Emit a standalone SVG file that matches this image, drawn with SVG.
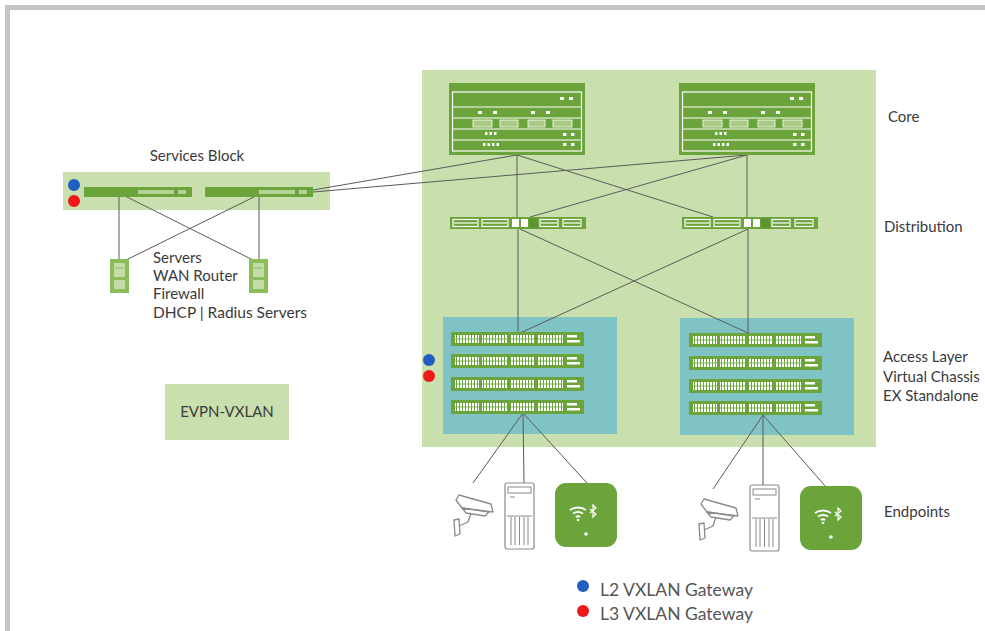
<svg xmlns="http://www.w3.org/2000/svg" xmlns:xlink="http://www.w3.org/1999/xlink" width="985" height="631" viewBox="0 0 985 631">
  <style>
    .lbl { font-family: Lato, "Open Sans", "Liberation Sans", sans-serif; font-size: 15px; fill: #3a3a3a; }
    .leg { font-family: Lato, "Open Sans", "Liberation Sans", sans-serif; font-size: 16.5px; fill: #555; }
    .zone { fill: #cadfae; }
    .teal { fill: #80c3c5; }
    .dev { fill: #6aa43a; }
    .wline { stroke: #ffffff; stroke-width: 1.2; fill: none; }
    .wdot { fill: #ffffff; }
    .link { stroke: #5a5a5a; stroke-width: 1; fill: none; }
    .outline { stroke: #8a8a8a; stroke-width: 1.2; fill: #ffffff; }
    .blue { fill: #1f5fc4; }
    .red { fill: #f01818; }
  </style>
  <defs>
    <pattern id="ports" width="3" height="12" patternUnits="userSpaceOnUse">
      <rect x="0" y="0" width="2" height="12" fill="#ffffff"/>
    </pattern>
    <!-- chassis core switch -->
    <g id="coreSw">
      <rect class="dev" x="0" y="0" width="136" height="72"/>
      <rect class="wline" x="3.5" y="9" width="129" height="59"/>
      <line class="wline" x1="3.5" y1="24" x2="132.5" y2="24"/>
      <line class="wline" x1="3.5" y1="35" x2="132.5" y2="35"/>
      <line class="wline" x1="3.5" y1="46" x2="132.5" y2="46"/>
      <line class="wline" x1="3.5" y1="57" x2="132.5" y2="57"/>
      <rect class="wdot" x="111" y="14" width="4" height="3"/>
      <rect class="wdot" x="120" y="14" width="4" height="3"/>
      <rect class="wdot" x="29" y="28" width="4" height="3"/>
      <rect class="wdot" x="44" y="28" width="4" height="3"/>
      <rect class="wdot" x="82" y="28" width="4" height="3"/>
      <rect class="wdot" x="97" y="28" width="4" height="3"/>
      <rect x="24" y="37" width="19" height="7" fill="#a9cb86" stroke="#fff" stroke-width="0.8"/>
      <rect x="51" y="37" width="18" height="7" fill="#a9cb86" stroke="#fff" stroke-width="0.8"/>
      <rect x="79" y="37" width="17" height="7" fill="#a9cb86" stroke="#fff" stroke-width="0.8"/>
      <rect x="104" y="37" width="19" height="7" fill="#a9cb86" stroke="#fff" stroke-width="0.8"/>
      <rect class="wdot" x="36" y="49" width="2.5" height="3"/>
      <rect class="wdot" x="40.5" y="49" width="2.5" height="3"/>
      <rect class="wdot" x="45" y="49" width="2.5" height="3"/>
      <rect class="wdot" x="114" y="50" width="3.5" height="3"/>
      <rect class="wdot" x="122" y="50" width="3.5" height="3"/>
      <rect class="wdot" x="34" y="60" width="2.5" height="3"/>
      <rect class="wdot" x="38.5" y="60" width="2.5" height="3"/>
      <rect class="wdot" x="43" y="60" width="2.5" height="3"/>
      <rect class="wdot" x="47.5" y="60" width="2.5" height="3"/>
      <rect class="wdot" x="114" y="60" width="3.5" height="3"/>
      <rect class="wdot" x="122" y="60" width="3.5" height="3"/>
    </g>
    <!-- distribution switch -->
    <g id="distSw">
      <rect class="dev" x="0" y="0" width="136" height="12"/>
      <rect class="wline" x="3" y="2.5" width="25" height="7" stroke-width="0.9"/>
      <line class="wline" x1="4" y1="6" x2="27" y2="6" stroke-width="0.9"/>
      <rect class="wline" x="32" y="2.5" width="26" height="7" stroke-width="0.9"/>
      <line class="wline" x1="33" y1="6" x2="57" y2="6" stroke-width="0.9"/>
      <rect class="wdot" x="62" y="2" width="7" height="8"/>
      <rect class="wdot" x="71" y="2" width="7" height="8"/>
      <rect x="79" y="1" width="9" height="10" fill="#5d9530"/>
      <rect class="wline" x="90" y="2.5" width="18" height="7" stroke-width="0.9"/>
      <line class="wline" x1="91" y1="6" x2="107" y2="6" stroke-width="0.9"/>
      <rect class="wline" x="113" y="2.5" width="18" height="7" stroke-width="0.9"/>
      <line class="wline" x1="114" y1="6" x2="130" y2="6" stroke-width="0.9"/>
    </g>
    <!-- access switch -->
    <g id="accSw">
      <rect class="dev" x="0" y="0" width="133" height="14"/>
      <rect x="4" y="3" width="24" height="8" fill="url(#ports)"/>
      <rect x="31" y="3" width="25" height="8" fill="url(#ports)"/>
      <rect x="59" y="3" width="25" height="8" fill="url(#ports)"/>
      <rect x="87" y="3" width="25" height="8" fill="url(#ports)"/>
      <line x1="4" y1="7" x2="112" y2="7" stroke="#6aa43a" stroke-width="0.8"/>
      <rect class="wdot" x="116" y="3" width="10" height="2.5"/>
      <rect class="wdot" x="116" y="8" width="13" height="2.5"/>
    </g>
    <!-- services block switch -->
    <g id="svcSw">
      <rect class="dev" x="0" y="0" width="108" height="10"/>
      <rect x="54" y="3" width="36" height="4" fill="#b7d39a"/>
      <rect x="94" y="3" width="8" height="4" fill="#b7d39a"/>
    </g>
    <!-- service appliance -->
    <g id="svcDev">
      <rect x="0" y="0" width="19" height="34" fill="#8bbd5b"/>
      <rect x="4" y="4" width="11" height="14" fill="#c4dca7"/>
      <rect x="4" y="21" width="11" height="9" fill="#c4dca7"/>
      <line x1="5" y1="9" x2="14" y2="9" stroke="#8bbd5b" stroke-width="1"/>
    </g>
    <!-- security camera outline -->
    <g id="camera" fill="#fff" stroke="#8a8a8a" stroke-width="1.3" stroke-linejoin="round">
      <path d="M5,0 L37,9 L39,17 L8,13 L2,5 Z"/>
      <path d="M8,13 L35,17 L31,21 L12,18 Z"/>
      <path d="M17,18 L14,27 L5,31"/>
      <path d="M0,25 L5,24 L6,39 L1,41 Z"/>
    </g>
    <!-- tower server outline -->
    <g id="server">
      <rect class="outline" x="0" y="0" width="29" height="66" rx="2"/>
      <rect x="3" y="4" width="23" height="6" fill="none" stroke="#8a8a8a" stroke-width="1"/>
      <line x1="5" y1="14" x2="10" y2="14" stroke="#8a8a8a" stroke-width="1"/>
      <line x1="2" y1="33" x2="27" y2="33" stroke="#8a8a8a" stroke-width="1"/>
      <line x1="6" y1="34" x2="6" y2="62" stroke="#8a8a8a" stroke-width="1"/>
      <line x1="10" y1="34" x2="10" y2="62" stroke="#8a8a8a" stroke-width="1"/>
      <line x1="14.5" y1="34" x2="14.5" y2="62" stroke="#8a8a8a" stroke-width="1"/>
      <line x1="19" y1="34" x2="19" y2="62" stroke="#8a8a8a" stroke-width="1"/>
      <line x1="23" y1="34" x2="23" y2="62" stroke="#8a8a8a" stroke-width="1"/>
    </g>
    <!-- wireless access point -->
    <g id="ap">
      <rect class="dev" x="0" y="0" width="62" height="64" rx="11"/>
      <path d="M15,27 A14,14 0 0 1 31,27" stroke="#fff" stroke-width="1.8" fill="none"/>
      <path d="M18,30.5 A9,9 0 0 1 28,30.5" stroke="#fff" stroke-width="1.8" fill="none"/>
      <path d="M20.8,34 A4,4 0 0 1 25.2,34" stroke="#fff" stroke-width="1.8" fill="none"/>
      <circle cx="23" cy="37" r="1.3" fill="#fff"/>
      <path d="M35,26 L41,31 L38,34 L38,22 L41,25 L35,30" stroke="#fff" stroke-width="1.2" fill="none"/>
      <circle cx="31" cy="51" r="1.8" fill="#fff"/>
    </g>
  </defs>

  <!-- page frame -->
  <rect x="0" y="0" width="985" height="631" fill="#ffffff"/>
  <rect x="7.5" y="7.5" width="990" height="640" fill="none" stroke="#c4c4c4" stroke-width="5"/>

  <!-- zones -->
  <g id="fabric-zone">
    <rect class="zone" x="422" y="70" width="454" height="377"/>
    <rect class="teal" x="443" y="317" width="174" height="117"/>
    <rect class="teal" x="680" y="318" width="174" height="117"/>
  </g>
  <g id="services-zone">
    <rect class="zone" x="63" y="172" width="267" height="38"/>
  </g>

  <!-- connectors -->
  <g id="connectors">
    <!-- services switches to appliances -->
    <line class="link" x1="119" y1="197" x2="119" y2="259"/>
    <line class="link" x1="123" y1="195" x2="257" y2="262"/>
    <line class="link" x1="258" y1="195" x2="122" y2="262"/>
    <line class="link" x1="259" y1="197" x2="259" y2="259"/>
    <!-- services block uplinks to core -->
    <line class="link" x1="313" y1="190" x2="517" y2="155"/>
    <line class="link" x1="313" y1="192" x2="747" y2="155"/>
    <!-- core to distribution -->
    <line class="link" x1="517" y1="155" x2="517" y2="217"/>
    <line class="link" x1="517" y1="155" x2="713" y2="217"/>
    <line class="link" x1="747" y1="155" x2="747" y2="217"/>
    <line class="link" x1="747" y1="155" x2="530" y2="217"/>
    <!-- distribution to access -->
    <line class="link" x1="518" y1="229" x2="518" y2="333"/>
    <line class="link" x1="520" y1="229" x2="748" y2="333"/>
    <line class="link" x1="748" y1="229" x2="748" y2="333"/>
    <line class="link" x1="748" y1="229" x2="520" y2="333"/>
    <!-- access to endpoints -->
    <line class="link" x1="523" y1="413" x2="473" y2="483"/>
    <line class="link" x1="523" y1="413" x2="524" y2="483"/>
    <line class="link" x1="523" y1="413" x2="587" y2="483"/>
    <line class="link" x1="763" y1="415" x2="713" y2="489"/>
    <line class="link" x1="763" y1="415" x2="763" y2="485"/>
    <line class="link" x1="763" y1="415" x2="826" y2="487"/>
  </g>

  <!-- core -->
  <g id="core-1"><use xlink:href="#coreSw" x="449" y="83"/></g>
  <g id="core-2"><use xlink:href="#coreSw" x="679" y="83"/></g>

  <!-- distribution -->
  <g id="dist-1"><use xlink:href="#distSw" x="450" y="217"/></g>
  <g id="dist-2"><use xlink:href="#distSw" x="682" y="217"/></g>

  <!-- access layer stacks -->
  <g id="access-1">
    <use xlink:href="#accSw" x="451" y="332"/>
    <use xlink:href="#accSw" x="451" y="354"/>
    <use xlink:href="#accSw" x="451" y="377"/>
    <use xlink:href="#accSw" x="451" y="400"/>
  </g>
  <g id="access-2">
    <use xlink:href="#accSw" x="689" y="333"/>
    <use xlink:href="#accSw" x="689" y="356"/>
    <use xlink:href="#accSw" x="689" y="379"/>
    <use xlink:href="#accSw" x="689" y="401"/>
  </g>
  <g id="access-gateway-marks">
    <circle class="blue" cx="429" cy="360" r="6"/>
    <circle class="red" cx="429" cy="376" r="6"/>
  </g>

  <!-- services block -->
  <g id="services-block">
    <text class="lbl" x="197" y="161" text-anchor="middle">Services Block</text>
    <circle class="blue" cx="74" cy="185" r="6"/>
    <circle class="red" cx="74" cy="201" r="6"/>
    <use xlink:href="#svcSw" x="84" y="187"/>
    <use xlink:href="#svcSw" x="205" y="187"/>
  </g>
  <g id="service-1"><use xlink:href="#svcDev" x="110" y="259"/></g>
  <g id="service-2"><use xlink:href="#svcDev" x="249" y="259"/></g>
  <g id="services-list">
    <text class="lbl" x="153" y="263">Servers</text>
    <text class="lbl" x="153" y="281">WAN Router</text>
    <text class="lbl" x="153" y="299">Firewall</text>
    <text class="lbl" x="153" y="318" textLength="154" lengthAdjust="spacingAndGlyphs">DHCP | Radius Servers</text>
  </g>

  <g id="evpn-vxlan">
    <rect class="zone" x="165" y="384" width="124" height="56"/>
    <text class="lbl" x="227" y="417" text-anchor="middle" font-size="14.3">EVPN-VXLAN</text>
  </g>

  <!-- endpoints -->
  <g id="camera-1"><use xlink:href="#camera" x="454" y="495"/></g>
  <g id="server-1"><use xlink:href="#server" x="505" y="483"/></g>
  <g id="ap-1"><use xlink:href="#ap" x="555" y="483"/></g>
  <g id="camera-2"><use xlink:href="#camera" x="699" y="499"/></g>
  <g id="server-2"><use xlink:href="#server" x="750" y="485"/></g>
  <g id="ap-2"><use xlink:href="#ap" x="800" y="486"/></g>

  <!-- tier labels -->
  <g id="tier-labels">
    <text class="lbl" x="888" y="122">Core</text>
    <text class="lbl" x="884" y="232">Distribution</text>
    <text class="lbl" x="883" y="362">Access Layer</text>
    <text class="lbl" x="883" y="382">Virtual Chassis</text>
    <text class="lbl" x="883" y="401">EX Standalone</text>
    <text class="lbl" x="884" y="517">Endpoints</text>
  </g>

  <!-- legend -->
  <g id="legend">
    <circle class="blue" cx="583" cy="586" r="6"/>
    <text class="leg" x="600" y="596" textLength="153" lengthAdjust="spacingAndGlyphs">L2 VXLAN Gateway</text>
    <circle class="red" cx="583" cy="611" r="6"/>
    <text class="leg" x="600" y="620" textLength="153" lengthAdjust="spacingAndGlyphs">L3 VXLAN Gateway</text>
  </g>
</svg>
